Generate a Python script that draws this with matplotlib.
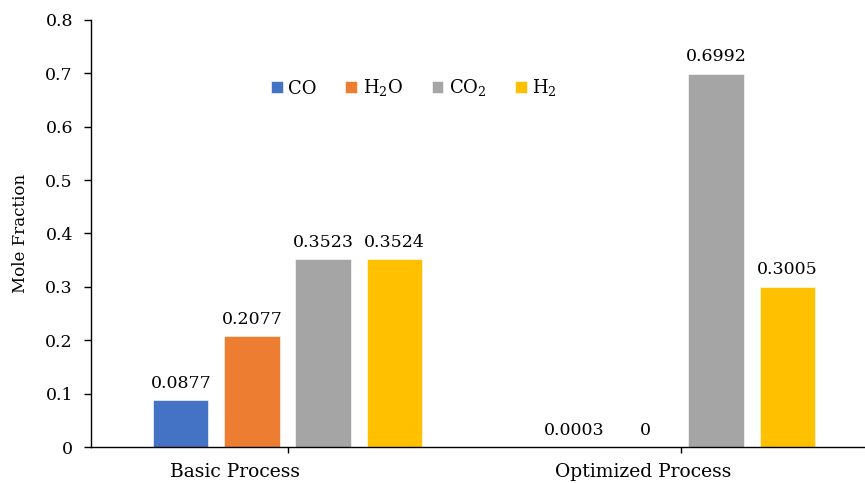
import numpy as np
import matplotlib
matplotlib.use('Agg')
import matplotlib.pyplot as plt
from matplotlib.transforms import ScaledTranslation

plt.rcParams['font.family'] = ['DejaVu Serif']
plt.rcParams['mathtext.fontset'] = 'dejavuserif'

processes = ['Basic Process', 'Optimized Process']
species = ['CO', 'H$_2$O', 'CO$_2$', 'H$_2$']
co = [0.0877, 0.0003]
h2o = [0.2077, 0.0]
co2 = [0.3523, 0.6992]
h2 = [0.3524, 0.3005]
value_labels = [['0.0877', '0.0003'], ['0.2077', '0'], ['0.3523', '0.6992'], ['0.3524', '0.3005']]
colors = ['#4472C4', '#ED7D31', '#A5A5A5', '#FFC000']

fig = plt.figure(figsize=(8.65, 4.83), dpi=100)
ax = fig.add_axes([91 / 865, 1 - 447 / 483, 786 / 865, 427 / 483])

x = np.arange(len(processes))
width = 0.14
step = 0.1807
series = [co, h2o, co2, h2]
for i, vals in enumerate(series):
    pos = x + (i - 1.5) * step
    ax.bar(pos, vals, width, color=colors[i], label=species[i], edgecolor='white', linewidth=0.4)
    for p, v, lab in zip(pos, vals, value_labels[i]):
        ax.annotate(lab, (p, v), xytext=(0, 6), textcoords='offset points',
                    ha='center', va='bottom', fontsize=12.5)

ax.set_xlim(-0.5, 1.5)
ax.set_ylim(0, 0.8)
ax.set_yticks(np.arange(0, 0.81, 0.1))
ax.set_yticklabels(['0', '0.1', '0.2', '0.3', '0.4', '0.5', '0.6', '0.7', '0.8'])
ax.set_xticks(x)
ax.set_xticklabels([])
# category labels sit left of their ticks in the original
for xi, name, dx in zip(x, processes, [-0.53, -0.37]):
    tr = ax.get_xaxis_transform() + ScaledTranslation(dx, -0.25, fig.dpi_scale_trans)
    ax.text(xi, 0, name, transform=tr, ha='center', va='center', fontsize=13.5, clip_on=False)
ax.tick_params(axis='y', labelsize=12.5, length=5, width=1, pad=8)
ax.tick_params(axis='x', length=4, width=1)
ax.spines['top'].set_visible(False)
ax.spines['right'].set_visible(False)
ax.spines['left'].set_linewidth(1)
ax.spines['bottom'].set_linewidth(1)
ax.set_ylabel('Mole Fraction', fontsize=12, labelpad=12)

ax.legend(loc='center', bbox_to_anchor=(414 / 865, 1 - 88 / 483), bbox_transform=fig.transFigure,
          ncol=4, frameon=False, fontsize=13, handlelength=0.65, handleheight=0.65,
          handletextpad=0.3, columnspacing=1.6)

fig.savefig('out.png', dpi=100)
